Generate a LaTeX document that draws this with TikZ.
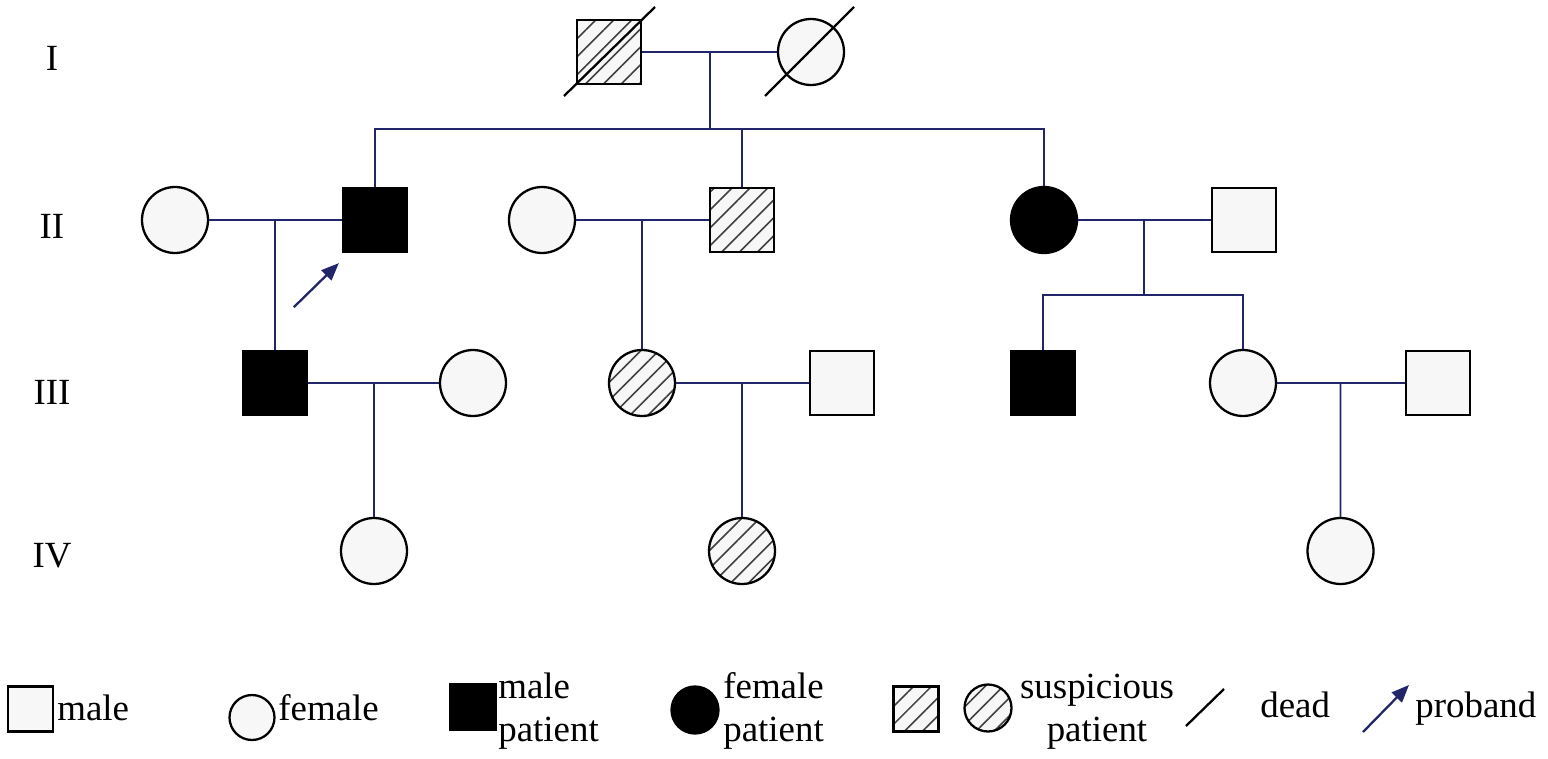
\documentclass[tikz,border=0pt]{standalone}
\usepackage{fontspec}
\setmainfont{Liberation Serif}
\usepackage{tikz}
\usetikzlibrary{arrows.meta,positioning,calc,patterns.meta}
\definecolor{linknavy}{RGB}{32,38,105}
\definecolor{bgfill}{RGB}{247,247,247}
\tikzset{
  malenode/.style = {rectangle, draw=black, line width=1.3pt, fill=bgfill, inner sep=0pt, minimum size=1.28cm},
  femalenode/.style = {circle, draw=black, line width=1.3pt, fill=bgfill, inner sep=0pt, minimum size=1.32cm},
  affected/.style = {fill=black},
  suspect/.style = {preaction={fill=bgfill}, pattern={Lines[angle=45,distance=7.2pt,line width=0.9pt]}, pattern color=black!75},
  keysize/.style = {minimum size=0.9cm},
  link/.style = {linknavy, line width=1.1pt},
  deadmark/.style = {black, line width=1.3pt},
  probandarrow/.style = {-{Triangle[length=10pt,width=8pt]}, linknavy, line width=1.3pt},
  genlabel/.style = {font=\fontsize{21}{24}\selectfont, inner sep=0pt},
  keytext/.style = {font=\fontsize{21}{24.4}\selectfont, inner sep=0pt},
}
\begin{document}
\begin{tikzpicture}
\useasboundingbox (0,0) rectangle (30.96,-15.18);

% generation labels
\node[genlabel] (gI)   at (1.04,-1.16)  {I};
\node[genlabel] (gII)  at (1.04,-4.52)  {II};
\node[genlabel] (gIII) at (1.04,-7.84)  {III};
\node[genlabel] (gIV)  at (1.04,-11.12) {IV};

% generation I
\node[malenode, suspect] (I1) at (12.18,-1.04) {};
\node[femalenode]        (I2) at (16.22,-1.04) {};
\draw[deadmark] ($(I1)+(-0.9,-0.88)$) -- ($(I1)+(0.92,0.9)$);
\draw[deadmark] ($(I2)+(-0.92,-0.88)$) -- ($(I2)+(0.86,0.9)$);

% generation II
\node[femalenode]           (II1) at (3.50,-4.40)  {};
\node[malenode, affected]   (II2) at (7.50,-4.40)  {};
\node[femalenode]           (II3) at (10.84,-4.40) {};
\node[malenode, suspect]    (II4) at (14.84,-4.40) {};
\node[femalenode, affected] (II5) at (20.88,-4.40) {};
\node[malenode]             (II6) at (24.88,-4.40) {};

% generation III
\node[malenode, affected] (III1) at (5.50,-7.66)  {};
\node[femalenode]         (III2) at (9.46,-7.66)  {};
\node[femalenode, suspect](III3) at (12.84,-7.66) {};
\node[malenode]           (III4) at (16.84,-7.66) {};
\node[malenode, affected] (III5) at (20.86,-7.66) {};
\node[femalenode]         (III6) at (24.86,-7.66) {};
\node[malenode]           (III7) at (28.76,-7.66) {};

% generation IV
\node[femalenode]          (IV1) at (7.48,-11.02)  {};
\node[femalenode, suspect] (IV2) at (14.84,-11.02) {};
\node[femalenode]          (IV3) at (26.81,-11.02) {};

% marriages and descent
\draw[link] (I1) -- (I2);
\coordinate (c1) at ($(I1)!0.5!(I2)$);
\draw[link] (c1) -- ++(0,-1.54) coordinate (s1);
\draw[link] (II2.north) |- (s1) -| (II5.north);
\draw[link] (II4.north) -- (II4.north |- s1);

\draw[link] (II1) -- (II2);
\coordinate (c2) at ($(II1)!0.5!(II2)$);
\draw[link] (c2) -- (III1.north);

\draw[link] (II3) -- (II4);
\coordinate (c3) at ($(II3)!0.5!(II4)$);
\draw[link] (c3) -- (III3.north);

\draw[link] (II5) -- (II6);
\coordinate (c4) at ($(II5)!0.5!(II6)$);
\draw[link] (c4) -- ++(0,-1.50) coordinate (s2);
\draw[link] (III5.north) |- (s2) -| (III6.north);

\draw[link] (III1) -- (III2);
\coordinate (c5) at ($(III1)!0.5!(III2)$);
\draw[link] (c5) -- (IV1.north);

\draw[link] (III3) -- (III4);
\coordinate (c6) at ($(III3)!0.5!(III4)$);
\draw[link] (c6) -- (IV2.north);

\draw[link] (III6) -- (III7);
\coordinate (c7) at ($(III6)!0.5!(III7)$);
\draw[link] (c7) -- (IV3.north);

% proband
\coordinate (pb) at ($(II2.south west)+(-0.96,-1.08)$);
\draw[probandarrow] (pb) -- ($(II2.south west)+(-0.06,-0.20)$);

% key
\node[malenode, keysize] (kmale) at (0.61,-14.18) {};
\node[keytext, anchor=base west] (tmale) at (1.14,-14.40) {male};
\node[femalenode, keysize] (kfemale) at (5.04,-14.35) {};
\node[keytext, anchor=base west] (tfemale) at (5.56,-14.40) {female};
\node[malenode, keysize, affected] (kmp) at (9.46,-14.14) {};
\node[keytext, anchor=west, align=left] (tmp) at (9.96,-14.22) {male\\patient};
\node[femalenode, keysize, minimum size=0.94cm, affected] (kfp) at (13.90,-14.20) {};
\node[keytext, anchor=west, align=left] (tfp) at (14.46,-14.22) {female\\patient};
\node[malenode, keysize, suspect] (ksm) at (18.32,-14.18) {};
\node[femalenode, keysize, minimum size=0.94cm, suspect] (ksf) at (19.76,-14.16) {};
\node[keytext, align=center] (tsp) at (21.94,-14.24) {suspicious\\patient};
\coordinate (kd1) at (23.72,-14.52);
\coordinate (kd2) at (24.48,-13.78);
\draw[deadmark] (kd1) -- (kd2);
\node[keytext, anchor=base west] (tdead) at (25.20,-14.34) {dead};
\coordinate (kp1) at (27.26,-14.64);
\coordinate (kp2) at (28.18,-13.70);
\draw[probandarrow] (kp1) -- (kp2);
\node[keytext, anchor=base west] (tpb) at (28.30,-14.34) {proband};

\end{tikzpicture}
\end{document}
